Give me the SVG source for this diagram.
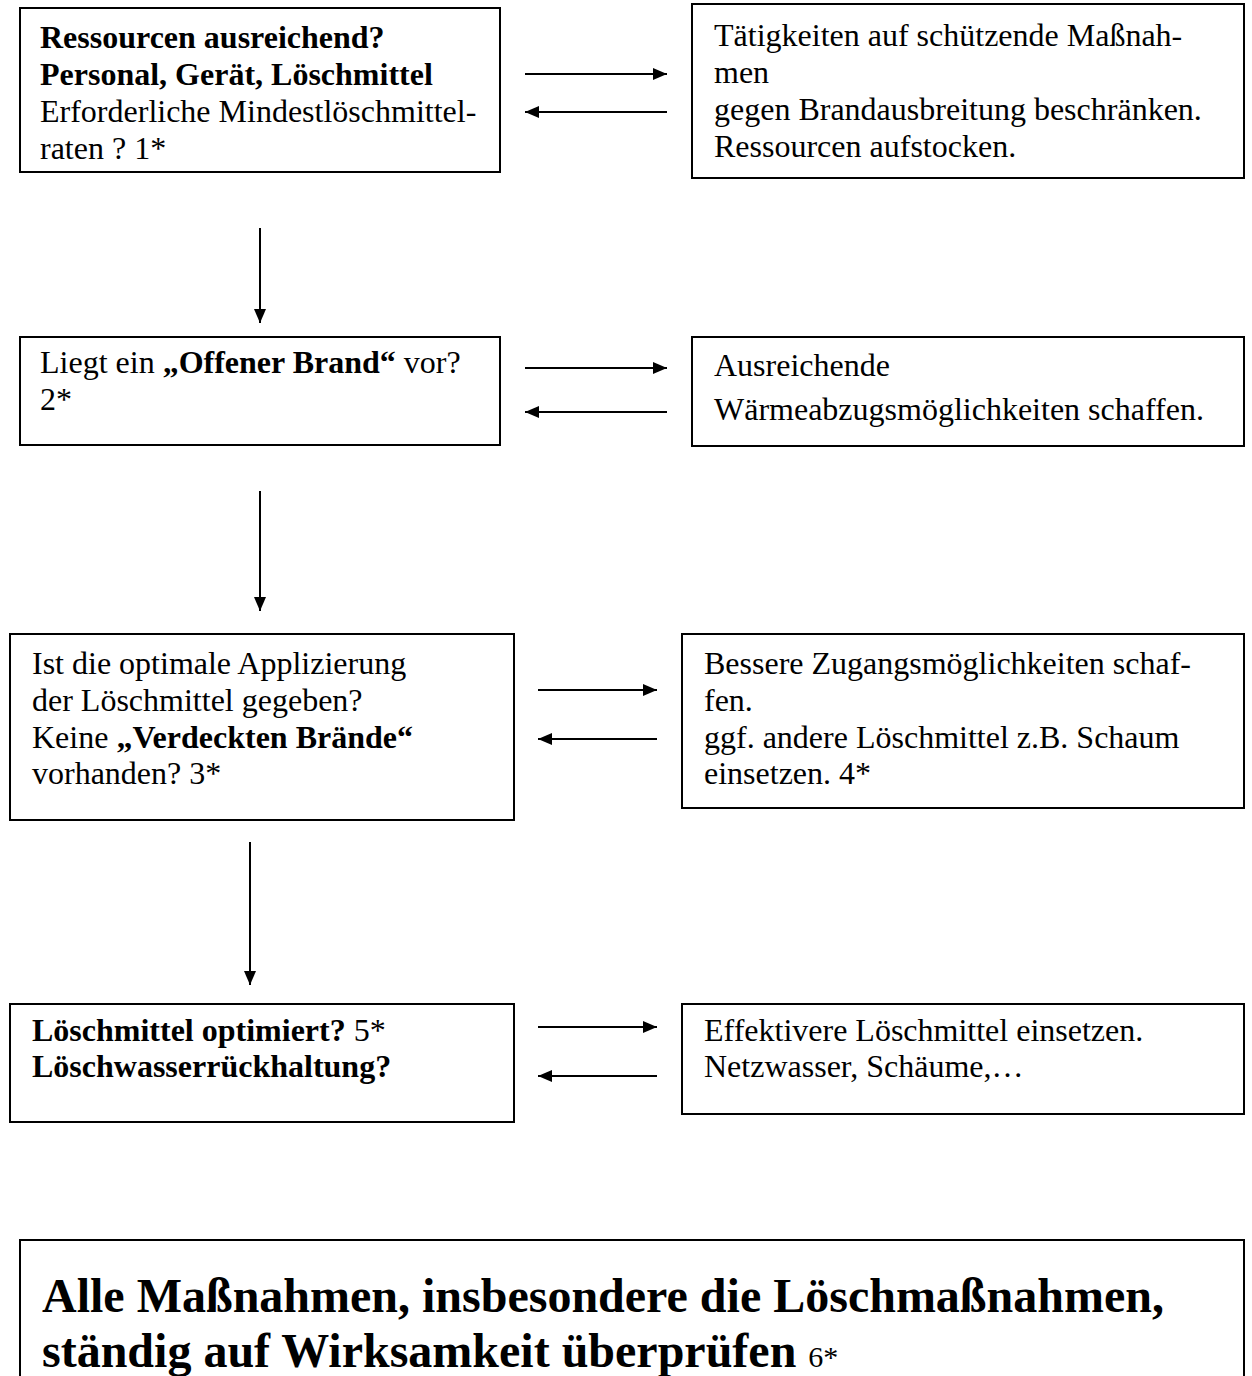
<svg xmlns="http://www.w3.org/2000/svg" width="1252" height="1376" viewBox="0 0 1252 1376">
<style>
.box{fill:#fff;stroke:#000;stroke-width:2}
.t{font-family:"Liberation Serif","Times New Roman",serif;font-size:32px;fill:#000}
.b{font-weight:bold}
.big{font-family:"Liberation Serif","Times New Roman",serif;font-size:48px;font-weight:bold;fill:#000}
.c{stroke:#000;stroke-width:2;fill:none}
</style>
<defs>
<marker id="ah" viewBox="0 0 14 12" refX="14" refY="6" markerWidth="14" markerHeight="12" markerUnits="userSpaceOnUse" orient="auto">
<path d="M0,0 L14,6 L0,12 Z" fill="#000"/>
</marker>
</defs>
<rect width="1252" height="1376" fill="#fff"/>
<g id="n1">
<rect class="box" x="20" y="8" width="480" height="164"/>
<text class="t b" x="40" y="48">Ressourcen ausreichend?</text>
<text class="t b" x="40" y="85">Personal, Gerät, Löschmittel</text>
<text class="t" x="40" y="122">Erforderliche Mindestlöschmittel-</text>
<text class="t" x="40" y="159">raten ? 1*</text>
</g>
<g id="n2">
<rect class="box" x="692" y="4" width="552" height="174"/>
<text class="t" x="714" y="46">Tätigkeiten auf schützende Maßnah-</text>
<text class="t" x="714" y="83">men</text>
<text class="t" x="714" y="120">gegen Brandausbreitung beschränken.</text>
<text class="t" x="714" y="157">Ressourcen aufstocken.</text>
</g>
<g id="n3">
<rect class="box" x="20" y="337" width="480" height="108"/>
<text class="t" x="40" y="373">Liegt ein <tspan class="b">„Offener Brand“</tspan> vor?</text>
<text class="t" x="40" y="410">2*</text>
</g>
<g id="n4">
<rect class="box" x="692" y="337" width="552" height="109"/>
<text class="t" x="714" y="376">Ausreichende</text>
<text class="t" x="714" y="420">Wärmeabzugsmöglichkeiten schaffen.</text>
</g>
<g id="n5">
<rect class="box" x="10" y="634" width="504" height="186"/>
<text class="t" x="32" y="674">Ist die optimale Applizierung</text>
<text class="t" x="32" y="711">der Löschmittel gegeben?</text>
<text class="t" x="32" y="748">Keine <tspan class="b">„Verdeckten Brände“</tspan></text>
<text class="t" x="32" y="784">vorhanden? 3*</text>
</g>
<g id="n6">
<rect class="box" x="682" y="634" width="562" height="174"/>
<text class="t" x="704" y="674">Bessere Zugangsmöglichkeiten schaf-</text>
<text class="t" x="704" y="711">fen.</text>
<text class="t" x="704" y="748">ggf. andere Löschmittel z.B. Schaum</text>
<text class="t" x="704" y="784">einsetzen. 4*</text>
</g>
<g id="n7">
<rect class="box" x="10" y="1004" width="504" height="118"/>
<text class="t" x="32" y="1041"><tspan class="b">Löschmittel optimiert?</tspan> 5*</text>
<text class="t b" x="32" y="1077">Löschwasserrückhaltung?</text>
</g>
<g id="n8">
<rect class="box" x="682" y="1004" width="562" height="110"/>
<text class="t" x="704" y="1041">Effektivere Löschmittel einsetzen.</text>
<text class="t" x="704" y="1077">Netzwasser, Schäume,…</text>
</g>
<g id="n9">
<rect class="box" x="20" y="1240" width="1224" height="150"/>
<text class="big" x="42" y="1312">Alle Maßnahmen, insbesondere die Löschmaßnahmen,</text>
<text class="big" x="42" y="1367">ständig auf Wirksamkeit überprüfen <tspan style="font-weight:normal;font-size:30px">6*</tspan></text>
</g>
<g id="connectors">
<line class="c" x1="525" y1="74" x2="667" y2="74" marker-end="url(#ah)"/>
<line class="c" x1="667" y1="112" x2="525" y2="112" marker-end="url(#ah)"/>
<line class="c" x1="260" y1="228" x2="260" y2="323" marker-end="url(#ah)"/>
<line class="c" x1="525" y1="368" x2="667" y2="368" marker-end="url(#ah)"/>
<line class="c" x1="667" y1="412" x2="525" y2="412" marker-end="url(#ah)"/>
<line class="c" x1="260" y1="491" x2="260" y2="611" marker-end="url(#ah)"/>
<line class="c" x1="538" y1="690" x2="657" y2="690" marker-end="url(#ah)"/>
<line class="c" x1="657" y1="739" x2="538" y2="739" marker-end="url(#ah)"/>
<line class="c" x1="250" y1="842" x2="250" y2="985" marker-end="url(#ah)"/>
<line class="c" x1="538" y1="1027" x2="657" y2="1027" marker-end="url(#ah)"/>
<line class="c" x1="657" y1="1076" x2="538" y2="1076" marker-end="url(#ah)"/>
</g>
</svg>
